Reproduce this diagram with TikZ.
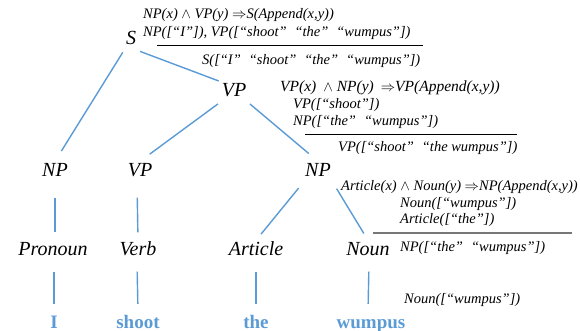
\documentclass[tikz,border=0pt]{standalone}
\usepackage{fontspec}
\setmainfont{Liberation Serif}
\definecolor{treeblue}{HTML}{5B9BD5}
\definecolor{rulegray}{HTML}{777777}
\newcommand{\gap}{\ \hspace{0.3em}}

\begin{document}
\begin{tikzpicture}[x=1pt, y=-1pt,
    cat/.style={font=\fontsize{20}{24}\selectfont\itshape, inner sep=2pt, text height=13pt, text depth=4pt},
    word/.style={font=\fontsize{19}{23}\selectfont\bfseries, text=treeblue, inner sep=2pt, text height=13pt, text depth=3pt},
    rule/.style={font=\fontsize{14.5}{17}\selectfont\itshape, anchor=base west, inner sep=0pt},
    branch/.style={treeblue, line width=1.4pt}]
    \useasboundingbox (0,0) rectangle (580,331);
    % Categories
    \node[cat] (s) at (131,40) {S};
    \node[cat] (vp) at (234,92) {VP};
    \node[cat] (np1) at (55,172) {NP};
    \node[cat] (vp1) at (140,172) {VP};
    \node[cat] (np2) at (318,172) {NP};
    \node[cat] (pron) at (53,251) {Pronoun};
    \node[cat] (verb) at (138,251) {Verb};
    \node[cat] (art) at (256,251) {Article};
    \node[cat] (noun) at (368,251) {Noun};
    % Words
    \node[word] (w1) at (54,323) {I};
    \node[word] (w2) at (138,323) {shoot};
    \node[word] (w3) at (256,323) {the};
    \node[word] (w4) at (371,323) {wumpus};
    % Branches
    \draw[branch, shorten <=2pt, shorten >=12pt] (s.south west) -- (np1.north);
    \draw[branch, shorten <=2pt, shorten >=1pt] (s.south east) -- (vp.north west);
    \draw[branch, shorten <=2pt, shorten >=12pt] (vp.south west) -- (vp1.north);
    \draw[branch, shorten <=2pt, shorten >=12pt] (vp.south east) -- (np2.north);
    \draw[branch, shorten <=7pt, shorten >=8pt] (np2.south west) -- (art.north);
    \draw[branch, shorten <=7pt, shorten >=8pt] (np2.south east) -- (noun.north);
    \draw[branch, shorten <=15pt, shorten >=8pt] (np1) ++(0,10.5) -- (np1 |- pron.north);
    \draw[branch, shorten <=15pt, shorten >=8pt] (vp1.south) ++(-3,0) -- (verb.north);
    \draw[branch, shorten <=10pt, shorten >=9pt] (pron.south) ++(1,0) -- (w1.north);
    \draw[branch, shorten <=10pt, shorten >=9pt] (verb.south) ++(-1,0) -- (w2.north);
    \draw[branch, shorten <=10pt, shorten >=9pt] (art.south) -- (w3.north);
    \draw[branch, shorten <=10pt, shorten >=9pt] (noun.south) ++(1,0) -- (noun.south |- w4.north);
    % Rule for S
    \node[rule] (r1a) at (143,19) {NP(x) $\wedge$ VP(y) $\Rightarrow$S(Append(x,y))};
    \node[rule] (r1b) at (143,37) {NP([“I”]), VP([“shoot”\gap“the”\gap“wumpus”])};
    \draw[line width=0.9pt] (157,45) -- (423,45);
    \node[rule] (r1c) at (202,65) {S([“I”\gap“shoot”\gap“the”\gap“wumpus”])};
    % Rule for VP
    \node[rule, font=\fontsize{15.5}{18}\selectfont\itshape] (r2a) at (280,92)
        {VP(x)\hspace{0.2em} $\wedge$ NP(y)\hspace{0.2em} $\Rightarrow$VP(Append(x,y))};
    \node[rule] (r2b) at (293,109) {VP([“shoot”])};
    \node[rule] (r2c) at (293,126) {NP([“the”\gap“wumpus”])};
    \draw[line width=0.9pt] (305,134) -- (517,134);
    \node[rule] (r2d) at (338,152) {VP([“shoot”\gap“the wumpus”])};
    % Rule for NP
    \node[rule] (r3a) at (341,190) {Article(x) $\wedge$ Noun(y) $\Rightarrow$NP(Append(x,y))};
    \node[rule] (r3b) at (400,207) {Noun([“wumpus”])};
    \node[rule] (r3c) at (400,223) {Article([“the”])};
    \draw[rulegray, line width=1.2pt] (373,233) -- (572,233);
    \node[rule] (r3d) at (400,251) {NP([“the”\gap“wumpus”])};
    % Lexical rule
    \node[rule] (r4) at (404,303) {Noun([“wumpus”])};
\end{tikzpicture}
\end{document}
